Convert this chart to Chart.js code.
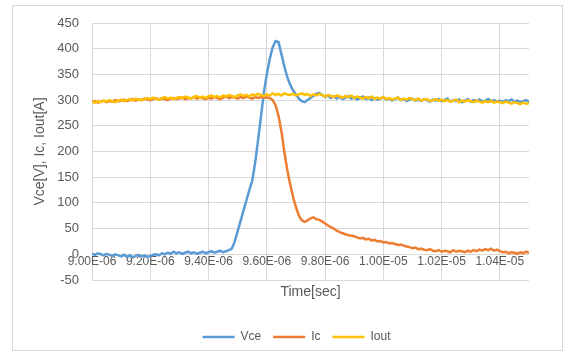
<!DOCTYPE html>
<html>
<head>
<meta charset="utf-8">
<script src="https://cdn.jsdelivr.net/npm/chart.js@4"></script>
<style>
    body { margin: 0; background: #fff; }
    #marco { position: absolute; left: 12px; top: 5px; width: 549px; height: 344px; border: 1px solid #d9d9d9; }
    #grafico { position: absolute; left: 0; top: 0; }
</style>
</head>
<body>
<div id="marco"></div>
<canvas id="grafico" width="572" height="358"></canvas>
<script>
// Tiempo en microsegundos (el eje muestra segundos)
const timeUs = [
    9.00, 9.01, 9.02, 9.03, 9.04, 9.05, 9.06, 9.07, 9.08, 9.09,
    9.10, 9.11, 9.12, 9.13, 9.14, 9.15, 9.16, 9.17, 9.18, 9.19,
    9.20, 9.21, 9.22, 9.23, 9.24, 9.25, 9.26, 9.27, 9.28, 9.29,
    9.30, 9.31, 9.32, 9.33, 9.34, 9.35, 9.36, 9.37, 9.38, 9.39,
    9.40, 9.41, 9.42, 9.43, 9.44, 9.45, 9.46, 9.47, 9.48, 9.49,
    9.50, 9.51, 9.52, 9.53, 9.54, 9.55, 9.56, 9.57, 9.58, 9.59,
    9.60, 9.61, 9.62, 9.63, 9.64, 9.65, 9.66, 9.67, 9.68, 9.69,
    9.70, 9.71, 9.72, 9.73, 9.74, 9.75, 9.76, 9.77, 9.78, 9.79,
    9.80, 9.81, 9.82, 9.83, 9.84, 9.85, 9.86, 9.87, 9.88, 9.89,
    9.90, 9.91, 9.92, 9.93, 9.94, 9.95, 9.96, 9.97, 9.98, 9.99,
    10.00, 10.01, 10.02, 10.03, 10.04, 10.05, 10.06, 10.07, 10.08, 10.09,
    10.10, 10.11, 10.12, 10.13, 10.14, 10.15, 10.16, 10.17, 10.18, 10.19,
    10.20, 10.21, 10.22, 10.23, 10.24, 10.25, 10.26, 10.27, 10.28, 10.29,
    10.30, 10.31, 10.32, 10.33, 10.34, 10.35, 10.36, 10.37, 10.38, 10.39,
    10.40, 10.41, 10.42, 10.43, 10.44, 10.45, 10.46, 10.47, 10.48, 10.49,
    10.50
];

const vce = [
    1, -1, 2, 0, -2, 1, -1, -3, 0, -2,
    -4, -1, -5, -2, -6, -3, -1, -4, -2, -5,
    -3, -1, 0, -2, 2, 0, 3, 1, 5, 2,
    4, 1, 3, 5, 2, 4, 1, 3, 5, 2,
    4, 6, 3, 5, 7, 4, 6, 8, 11, 25,
    45, 65, 85, 105, 125, 143, 178, 222, 268, 315,
    350, 380, 402, 415, 413, 390, 366, 345, 330, 319,
    311, 303, 298, 296, 300, 304, 308, 312, 314, 310,
    306, 309, 304, 307, 303, 306, 302, 305, 308, 303,
    305, 301, 304, 307, 302, 305, 300, 304, 301, 303,
    306, 301, 303, 299, 302, 305, 300, 302, 298, 301,
    303, 299, 301, 298, 302, 300, 297, 301, 299, 302,
    298, 300, 303, 297, 300, 298, 301, 296, 299, 302,
    297, 300, 298, 301, 297, 299, 302, 298, 300, 297,
    299, 296, 300, 298, 301, 297, 299, 296, 298, 300,
    297
];

const ic = [
    296, 298, 295, 297, 299, 296, 298, 297, 300, 298,
    299, 301, 298, 300, 302, 299, 301, 300, 303, 301,
    300, 302, 304, 301, 303, 302, 300, 303, 304, 302,
    303, 305, 302, 304, 303, 306, 303, 305, 304, 302,
    305, 303, 306, 304, 302, 305, 307, 304, 306, 305,
    303, 306, 304, 307, 305, 303, 306, 304, 306, 305,
    305, 304, 300, 290, 270, 240, 200, 165, 137, 112,
    92, 75, 66, 63, 66, 70, 72, 68, 67, 64,
    60, 56, 53, 50, 46, 43, 41, 39, 37, 36,
    35, 33, 31, 32, 29, 30, 27, 28, 25, 26,
    23, 24, 21, 22, 20, 18, 19, 17, 15, 14,
    12, 13, 10, 11, 9, 8, 10, 7, 6, 8,
    5, 7, 6, 4, 8, 5, 7, 6, 4, 7,
    5, 8, 6, 9, 7, 10, 8, 11, 7, 9,
    6, 4, 5, 2, 4, 3, 1, 4, 2, 5,
    3
];

const iout = [
    297, 295, 298, 296, 299, 297, 300, 298, 296, 299,
    301, 298, 300, 302, 299, 303, 301, 300, 302, 304,
    302, 305, 303, 301, 304, 306, 303, 305, 302, 304,
    306, 304, 307, 305, 303, 306, 308, 305, 307, 304,
    307, 309, 306, 308, 305, 309, 307, 310, 308, 306,
    309, 311, 308, 310, 307, 311, 309, 312, 310, 308,
    311, 309, 313, 310, 312, 309, 313, 311, 310, 312,
    309, 311, 313, 310, 312, 308, 311, 309, 312, 310,
    307, 310, 308, 306, 309, 307, 305, 308, 306, 309,
    304, 307, 305, 303, 306, 304, 307, 302, 305, 303,
    306, 302, 304, 301, 303, 305, 300, 303, 301, 304,
    302, 300, 303, 299, 301, 302, 298, 300, 302, 299,
    301, 298, 300, 297, 299, 301, 296, 299, 297, 300,
    298, 296, 299, 297, 295, 298, 296, 299, 295, 297,
    296, 294, 297, 295, 293, 296, 294, 292, 295, 293,
    294
];

const seriesNames = ['Vce', 'Ic', 'Iout'];
const seriesColors = ['#5B9BD5', '#ED7D31', '#FFC000'];
const seriesValues = [vce, ic, iout];

// Formato tipo Excel 0.00E+00
function formatTime(v) {
    if (v < 10) {
        return v.toFixed(2) + 'E-06';
    }
    return (v / 10).toFixed(2) + 'E-05';
}

const datasets = seriesValues.map((values, i) => ({
    label: seriesNames[i],
    data: values.map((y, j) => ({ x: timeUs[j], y: y })),
    borderColor: seriesColors[i],
    backgroundColor: seriesColors[i],
    borderWidth: 2.5,
    pointRadius: 0,
    tension: 0,
    order: 3 - i
}));

const textColor = '#595959';
const gridColor = '#d9d9d9';

// Centrar la leyenda respecto al marco completo, no al área del gráfico
const moverLeyenda = {
    id: 'moverLeyenda',
    afterLayout(chart) {
        chart.legend.left += 26;
        chart.legend.right += 26;
    }
};

new Chart(document.getElementById('grafico'), {
    type: 'line',
    data: { datasets: datasets },
    plugins: [moverLeyenda],
    options: {
        responsive: false,
        animation: false,
        layout: { padding: { left: 12, top: 23, right: 43, bottom: 5 } },
        scales: {
            x: {
                type: 'linear',
                position: { y: 0 },
                min: 9.0,
                max: 10.5,
                border: { display: false },
                grid: { color: gridColor, drawTicks: false },
                ticks: {
                    stepSize: 0.2,
                    includeBounds: false,
                    maxRotation: 0,
                    padding: 0,
                    color: textColor,
                    font: { family: 'Liberation Sans', size: 12 },
                    callback: function(value) { return formatTime(value); }
                },
                title: {
                    display: true,
                    text: 'Time[sec]',
                    color: textColor,
                    padding: { top: 15, bottom: 0 },
                    font: { family: 'Liberation Sans', size: 14 }
                }
            },
            y: {
                min: -50,
                max: 450,
                border: { display: false },
                grid: { color: gridColor, drawTicks: false },
                ticks: {
                    stepSize: 50,
                    padding: 13,
                    color: textColor,
                    font: { family: 'Liberation Sans', size: 13 }
                },
                title: {
                    display: true,
                    text: 'Vce[V], Ic, Iout[A]',
                    color: textColor,
                    padding: { top: 20, bottom: 0 },
                    font: { family: 'Liberation Sans', size: 14 }
                },
                afterFit: function(scale) { scale.width = 80; }
            }
        },
        plugins: {
            legend: {
                position: 'bottom',
                title: { display: true, text: '', padding: { top: 24.6, bottom: 0 } },
                labels: {
                    boxWidth: 32,
                    boxHeight: 0,
                    padding: 12,
                    color: textColor,
                    font: { family: 'Liberation Sans', size: 12 },
                    sort: (a, b) => a.datasetIndex - b.datasetIndex
                }
            },
            tooltip: { enabled: false }
        }
    }
});
</script>
</body>
</html>
